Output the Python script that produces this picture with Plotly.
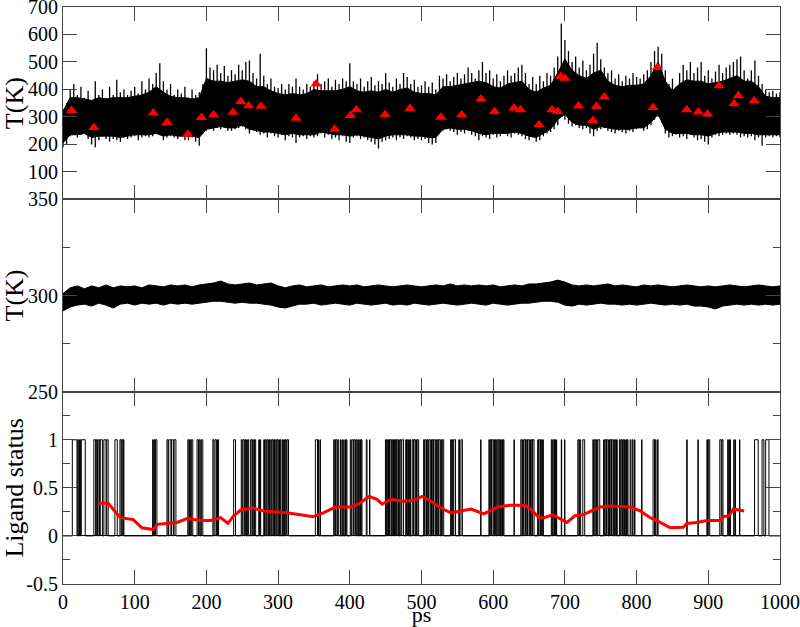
import plotly.graph_objects as go

# ---------------- data ----------------
# Top panel: tips of the spikes of the heated-ligand temperature trace, sampled every 5 ps
t_top = list(range(0, 1001, 5))
top_upper = [330, 350, 400, 420, 380, 410, 370, 395, 360, 430, 380, 400, 370, 410, 380, 435, 390, 400, 380, 395,
             410, 385, 430, 400, 440, 420, 460, 495, 430, 400, 420, 380, 400, 385, 410, 370, 400, 380, 390, 420,
             550, 480, 470, 490, 460, 485, 450, 470, 455, 490, 470, 500, 505, 460, 440, 530, 450, 420, 440, 410,
             405, 420, 400, 420, 410, 440, 410, 400, 420, 410, 430, 455, 420, 430, 440, 410, 435, 420, 440, 430,
             495, 430, 420, 440, 410, 430, 445, 415, 430, 420, 460, 425, 410, 440, 420, 460, 445, 420, 435, 410,
             415, 430, 410, 425, 400, 450, 440, 455, 430, 445, 460, 440, 455, 480, 460, 440, 470, 500, 460, 470,
             440, 455, 430, 450, 470, 450, 460, 480, 490, 460, 420, 445, 420, 450, 430, 460, 450, 480, 520, 640,
             580, 540, 500, 520, 480, 505, 470, 490, 530, 570, 510, 480, 460, 470, 440, 455, 430, 450, 440, 460,
             445, 440, 455, 470, 500, 540, 555, 530, 470, 420, 440, 410, 460, 490, 470, 500, 460, 480, 500, 450,
             470, 440, 465, 490, 460, 480, 490, 500, 510, 520, 470, 440, 470, 505, 450, 420, 400, 390, 395, 385,
             390]
top_lower = [190, 200, 230, 235, 225, 235, 240, 220, 200, 190, 215, 230, 220, 210, 220, 215, 210, 225, 220, 225,
             230, 215, 225, 230, 225, 230, 240, 235, 215, 225, 230, 225, 220, 230, 215, 215, 225, 210, 195, 240,
             250, 255, 250, 260, 255, 265, 250, 250, 255, 260, 265, 255, 240, 255, 245, 235, 240, 225, 240, 230,
             225, 235, 215, 230, 225, 205, 225, 230, 220, 230, 225, 230, 240, 225, 235, 220, 225, 215, 230, 210,
             205, 225, 230, 220, 225, 215, 210, 200, 185, 210, 215, 220, 225, 215, 225, 220, 230, 225, 215, 220,
             215, 220, 205, 200, 205, 240, 250, 255, 250, 245, 235, 245, 240, 250, 235, 230, 215, 230, 225, 220,
             235, 225, 230, 240, 230, 225, 240, 235, 230, 220, 215, 225, 210, 215, 230, 240, 245, 255, 270, 300,
             290, 275, 265, 270, 260, 255, 260, 240, 230, 250, 255, 260, 250, 245, 240, 250, 245, 240, 250, 245,
             255, 260, 250, 255, 270, 290, 300, 280, 240, 225, 230, 235, 225, 230, 220, 235, 225, 215, 220, 210,
             200, 225, 235, 230, 235, 240, 235, 240, 235, 225, 230, 225, 230, 215, 225, 195, 225, 230, 225, 230,
             225]

# Top panel: solid core of the trace, every 10 ps
t_core = list(range(0, 1001, 10))
core_upper = [320, 370, 370, 365, 360, 370, 365, 370, 370, 370, 375, 380, 390, 410, 390, 375, 370, 370, 365, 370,
              440, 430, 430, 425, 430, 435, 430, 410, 410, 395, 385, 380, 385, 380, 385, 400, 395, 395, 395, 400,
              410, 395, 390, 395, 390, 400, 390, 400, 405, 390, 385, 385, 380, 410, 410, 415, 420, 425, 430, 425,
              410, 405, 420, 425, 430, 400, 390, 405, 415, 460, 510, 470, 450, 440, 460, 470, 430, 415, 410, 415,
              415, 420, 450, 500, 430, 395, 420, 435, 430, 430, 420, 425, 430, 440, 450, 430, 430, 410, 375, 370,
              370]
core_lower = [205, 235, 235, 240, 225, 230, 230, 230, 225, 230, 235, 235, 235, 240, 230, 235, 230, 230, 230, 225,
              255, 260, 265, 260, 260, 270, 255, 250, 245, 245, 240, 235, 240, 235, 235, 235, 245, 240, 235, 235,
              230, 235, 230, 225, 220, 230, 235, 235, 235, 230, 230, 225, 225, 255, 260, 255, 255, 250, 240, 235,
              240, 240, 240, 245, 240, 230, 225, 240, 255, 290, 310, 280, 270, 270, 255, 265, 260, 255, 255, 255,
              260, 260, 280, 310, 255, 240, 240, 240, 235, 235, 230, 240, 245, 245, 245, 240, 240, 235, 235, 235,
              235]

# Top panel: red triangles
tri_t = [12, 43, 126, 145, 174, 193, 210, 237, 248, 259, 276, 325, 353, 379, 401, 409, 449, 484, 527, 556,
         583, 602, 629, 638, 664, 682, 690, 694, 700, 719, 739, 744, 755, 823, 829, 870, 886, 899, 915, 936,
         942, 964]
tri_T = [323, 261, 314, 280, 237, 298, 308, 317, 356, 341, 339, 295, 420, 255, 305, 326, 308, 331, 299, 308,
         365, 320, 332, 326, 271, 326, 320, 447, 441, 340, 287, 338, 372, 334, 480, 326, 318, 311, 413, 348,
         377, 359]

# Middle panel: envelope of the thermostatted trace, every 10 ps
t_mid = list(range(0, 1001, 10))
mid_upper = [301, 304, 305, 303.5, 305, 304, 305.5, 304, 305, 304.5, 305, 304, 305.5, 305, 304.5, 305.5, 305, 305.5,
             304.5, 305.5, 306, 306.5, 307.5, 306, 305.5, 306, 306.5, 305.5, 306, 306.5, 305, 304, 305, 305.5,
             304.5, 305, 305.5, 304.5, 305, 305.5, 305, 305.5, 304.5, 305, 305.5, 305, 304.5, 305, 305.5, 305,
             304.5, 305, 305.5, 305, 306, 305, 305.5, 305, 305.5, 305, 305.5, 304.5, 305, 305.5, 305, 306, 306,
             306.5, 307, 308, 307, 305.5, 305, 305.5, 305, 305.5, 306, 305, 305.5, 305, 304.5, 305.5, 305, 305.5,
             305, 304.5, 305, 305.5, 305, 304.5, 305, 304.5, 305, 305.5, 305, 304.5, 305, 305.5, 305, 304.5, 305]
mid_lower = [292, 294, 295, 295.5, 294.5, 296, 295, 293.5, 295.5, 296, 295, 296, 295.5, 296, 295, 296, 295.5, 296,
             295.5, 296, 296.5, 297, 297, 296.5, 296, 296.5, 296, 296, 295.5, 295, 294, 293.5, 294.5, 295.5,
             295.5, 296, 295, 295.5, 296, 295.5, 295, 296, 295.5, 295, 295.5, 296, 295, 295.5, 295, 296, 295.5,
             295, 295.5, 296, 295.5, 295, 295.5, 296, 295.5, 295, 296, 295.5, 295, 295.5, 296, 296, 296.5, 297,
             297, 296.5, 295, 294.5, 295.5, 295, 295.5, 296, 295.5, 295.5, 295, 295.5, 295, 295.5, 296, 295.5,
             295, 295.5, 295, 295.5, 294.5, 294.5, 294, 293, 294.5, 295, 295.5, 295, 295.5, 295, 295.5, 295, 295.5]

# Bottom panel: periods (ps) in which the ligand status is 1
on_start = [13, 20.5, 23, 25.5, 43, 46.5, 49, 52, 57, 61, 72.4, 79.4, 82, 84, 125, 127, 129, 145, 147.5, 151.5, 155,
            174, 176.5, 179, 187, 190, 193, 209, 212, 215.5, 238, 248.6, 251, 254, 256, 258, 261.7, 264.5, 267,
            273, 275, 280, 282, 284.5, 287, 289, 291.5, 294, 296, 298.5, 301, 303, 306, 308, 310, 312.5,
            352, 356, 358.5, 377.5, 380, 383, 387, 390, 393, 395, 400.7, 403, 406, 409, 412, 414, 416, 423, 427.5,
            449.7, 452, 454, 456, 459, 461, 463, 465, 468, 470, 472.5, 478, 480, 482, 484, 487, 489, 492, 494,
            503, 505, 508, 510, 513, 515, 517, 520, 522, 524, 527, 529, 540.6, 543, 545, 552, 555, 582.5,
            594, 596, 598, 601, 603, 605, 607, 610, 612, 614, 629, 638.5, 641, 643, 646, 648, 651, 653, 655,
            662, 664, 667, 669, 681, 683, 685.5, 688, 695, 699.5, 718, 720.5, 725, 739, 741, 744, 746,
            754, 756, 758, 761, 763, 765, 768, 770, 772, 776, 778, 780.5, 783, 785, 787, 791, 794, 797, 807,
            823, 826, 829, 870, 885.5, 898, 900, 916, 919, 927, 929.5, 935.5, 937.5, 943.5, 964.5, 975, 980]
on_end = [19.5, 22, 24.5, 31, 45.5, 48, 51, 55, 60, 63, 75.7, 81, 83.5, 85, 126, 128, 131, 146.5, 150.5, 154, 157.5,
          175.5, 178, 181, 189, 191.5, 195, 210.5, 214, 217, 240.6, 250, 253, 255, 257, 259, 263.5, 266, 268.7,
          274, 275.7, 281, 283.5, 286, 288, 290.5, 293, 295, 297.5, 300, 302, 304, 307, 309, 311.5, 314.5,
          355, 356.5, 359, 379, 382, 384.5, 388, 391, 394, 396, 402, 405, 408, 410.5, 413, 415, 417, 424, 428,
          451, 453, 455.5, 458, 460, 462.5, 464, 467, 469, 471.5, 475, 479, 481, 483, 484.6, 488.5, 491, 493, 496,
          504, 507, 509, 512, 514, 516.5, 519, 521, 523.5, 526, 528, 531, 542, 544, 547.5, 553, 557, 583,
          595, 597.5, 600, 602, 604, 606.5, 609, 611, 613, 615, 629.5, 640, 642, 645, 647.5, 650, 652, 654.5, 657,
          663, 666, 668, 670, 682, 684.5, 687, 688.5, 695.5, 700, 719.5, 722, 727.6, 740, 743, 745, 748.6,
          755, 757.5, 760, 762, 764.5, 767, 769, 771, 773, 777, 779.5, 782, 784, 786, 788, 792, 795, 797.7, 807.5,
          825, 827, 830, 870.5, 886, 899, 902, 918, 920.5, 928, 931, 936, 938, 944, 969.6, 977.5, 984.6]

# Bottom panel: running average (red)
avg_t = [50, 63, 72, 80, 98, 110, 126, 131, 145, 159, 173, 192, 206, 220, 230, 238, 248, 264, 280, 299,
         312, 331, 349, 363, 380, 401, 412, 427, 438, 445, 457, 475, 489, 501, 513, 527, 541, 555, 569, 587,
         606, 624, 643, 652, 664, 671, 683, 693, 703, 714, 725, 737, 749, 763, 781, 791, 805, 819, 833, 847,
         865, 870, 884, 898, 917, 921, 929, 935, 950]
avg_v = [0.34, 0.34, 0.26, 0.19, 0.17, 0.084, 0.066, 0.12, 0.13, 0.14, 0.18, 0.16, 0.16, 0.19, 0.13, 0.21, 0.27,
         0.29, 0.26, 0.25, 0.24, 0.22, 0.20, 0.24, 0.30, 0.30, 0.33, 0.41, 0.38, 0.33, 0.38, 0.36, 0.37, 0.41,
         0.36, 0.29, 0.24, 0.26, 0.28, 0.23, 0.30, 0.32, 0.32, 0.28, 0.19, 0.19, 0.22, 0.18, 0.14, 0.21, 0.22,
         0.26, 0.30, 0.31, 0.30, 0.30, 0.26, 0.19, 0.14, 0.084, 0.09, 0.13, 0.14, 0.16, 0.16, 0.20, 0.21, 0.28,
         0.26]

# ---------------- build figure ----------------
step_x = [0]
step_y = [0]
for s, e in zip(on_start, on_end):
    step_x += [s, e]
    step_y += [1, 0]
step_x.append(1000)
step_y.append(0)

spike_x, spike_y = [], []
for t, lo, hi in zip(t_top, top_lower, top_upper):
    spike_x += [t, t, None]
    spike_y += [lo, hi, None]

fig = go.Figure()
fig.add_trace(go.Scatter(x=t_core, y=core_lower, mode="lines", line=dict(color="black", width=1),
                         xaxis="x", yaxis="y", showlegend=False))
fig.add_trace(go.Scatter(x=t_core, y=core_upper, mode="lines", line=dict(color="black", width=1),
                         fill="tonexty", fillcolor="black", xaxis="x", yaxis="y", showlegend=False))
fig.add_trace(go.Scatter(x=spike_x, y=spike_y, mode="lines", line=dict(color="black", width=1.3),
                         connectgaps=False, xaxis="x", yaxis="y", showlegend=False))
fig.add_trace(go.Scatter(x=tri_t, y=tri_T, mode="markers",
                         marker=dict(symbol="triangle-up", size=10, color="#ff0000", line=dict(width=0)),
                         xaxis="x", yaxis="y", showlegend=False))
fig.add_trace(go.Scatter(x=t_mid, y=mid_lower, mode="lines", line=dict(color="black", width=1),
                         xaxis="x2", yaxis="y2", showlegend=False))
fig.add_trace(go.Scatter(x=t_mid, y=mid_upper, mode="lines", line=dict(color="black", width=1),
                         fill="tonexty", fillcolor="black", xaxis="x2", yaxis="y2", showlegend=False))
fig.add_trace(go.Scatter(x=step_x, y=step_y, mode="lines", line=dict(color="black", width=1, shape="hv"),
                         xaxis="x3", yaxis="y3", showlegend=False))
fig.add_trace(go.Scatter(x=avg_t, y=avg_v, mode="lines", line=dict(color="#ff0000", width=3),
                         xaxis="x3", yaxis="y3", showlegend=False))

AX = "#444444"
FONT = "Liberation Serif, Times New Roman, serif"
TICKF = dict(family=FONT, size=20, color="black")
TITLEF = dict(family=FONT, size=26, color="black")
XTITLEF = dict(family=FONT, size=22, color="black")
xcommon = dict(range=[0, 1000], tickmode="array", tickvals=list(range(0, 1001, 100)),
               ticks="inside", ticklen=14, tickcolor=AX, tickwidth=1, showline=True, linecolor=AX,
               linewidth=1, mirror="ticks", showgrid=False, zeroline=False, automargin=False,
               tickfont=TICKF)
ycommon = dict(ticks="inside", ticklen=14, tickcolor=AX, tickwidth=1, showline=True, linecolor=AX,
               linewidth=1, mirror="ticks", showgrid=False, zeroline=False, automargin=False,
               ticklabeloverflow="allow", tickfont=TICKF)

fig.update_layout(
    width=800, height=627,
    margin=dict(l=63, r=20, t=7, b=43),
    paper_bgcolor="white", plot_bgcolor="white",
    xaxis=dict(xcommon, anchor="y", showticklabels=False),
    xaxis2=dict(xcommon, anchor="y2", showticklabels=False),
    xaxis3=dict(xcommon, anchor="y3", showticklabels=True, ticklabeloverflow="allow",
                title=dict(text="ps", font=XTITLEF, standoff=0)),
    yaxis=dict(ycommon, domain=[2 / 3, 1], range=[0, 700], tickmode="array",
               tickvals=[100, 200, 300, 400, 500, 600, 700], anchor="x",
               title=dict(text="T(K)", font=TITLEF, standoff=2)),
    yaxis2=dict(ycommon, domain=[1 / 3, 2 / 3], range=[250, 350], tickmode="array",
                tickvals=[250, 300, 350], anchor="x2",
                minor=dict(tickvals=[275, 325], ticklen=7, tickcolor=AX, ticks="inside"),
                title=dict(text="T(K)", font=TITLEF, standoff=2)),
    yaxis3=dict(ycommon, domain=[0, 1 / 3], range=[-0.5, 1.5], tickmode="array",
                tickvals=[-0.5, 0, 0.5, 1], ticktext=["-0.5", "0", "0.5", "1"], anchor="x3",
                zeroline=True, zerolinecolor="black", zerolinewidth=1,
                minor=dict(tickvals=[-0.25, 0.25, 0.75, 1.25], ticklen=7, tickcolor=AX, ticks="inside"),
                title=dict(text="Ligand status", font=TITLEF, standoff=2)),
)

fig.write_html("out.html", config={"displayModeBar": False},
               post_script="document.body.style.margin='0px';")
